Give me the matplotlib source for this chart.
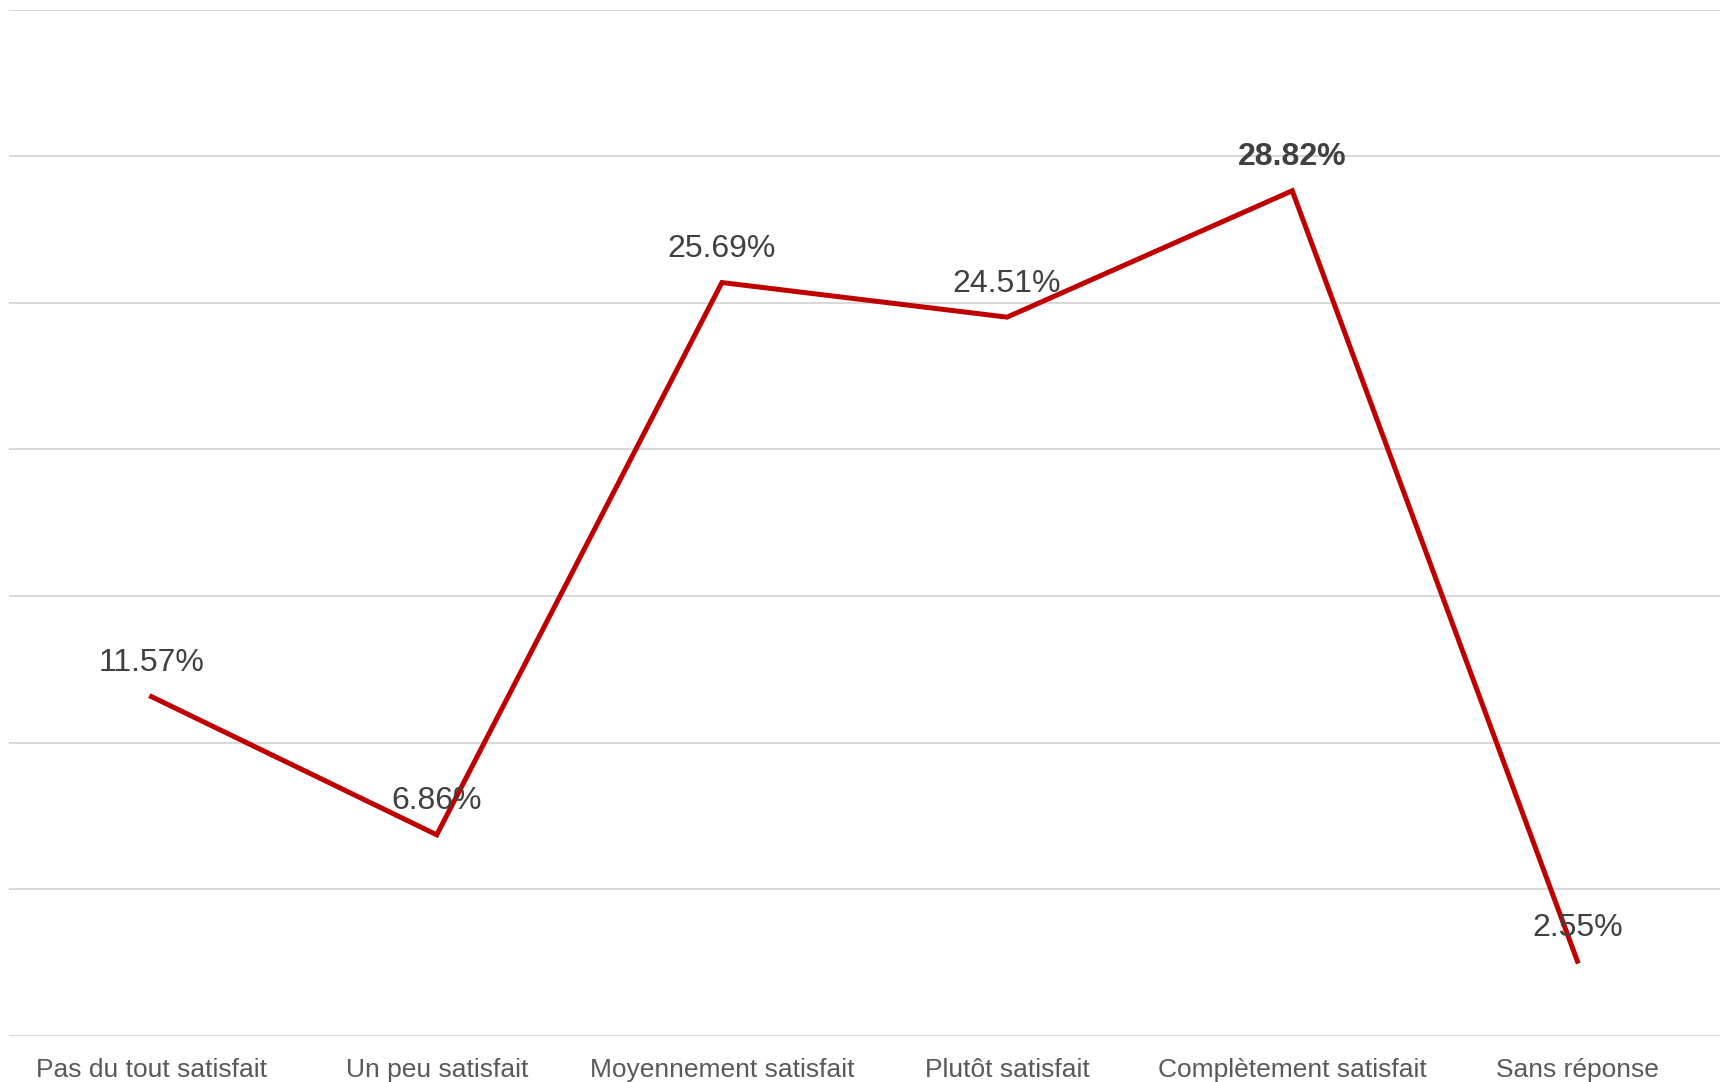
import matplotlib
matplotlib.use("Agg")
import matplotlib.pyplot as plt

categories = ["Pas du tout satisfait", "Un peu satisfait", "Moyennement satisfait",
              "Plutôt satisfait", "Complètement satisfait", "Sans réponse"]
values = [11.57, 6.86, 25.69, 24.51, 28.82, 2.55]
labels = ["11.57%", "6.86%", "25.69%", "24.51%", "28.82%", "2.55%"]

plt.rcParams['font.family'] = ['Liberation Sans', 'DejaVu Sans']

fig = plt.figure(figsize=(17.27, 10.82), dpi=100)
ax = fig.add_axes([9/1727, 1 - 1036/1082, (1720-9)/1727, (1036-9.5)/1082])

x = list(range(len(categories)))
ax.plot(x, values, color="#C00000", linewidth=3.6, solid_joinstyle="miter", zorder=3)

imax = values.index(max(values))
for i, (v, lab) in enumerate(zip(values, labels)):
    ax.annotate(lab, (i, v), xytext=(0, 24), textcoords="offset points",
                ha="center", va="center", fontsize=23, color="#404040",
                fontweight="bold" if i == imax else "normal", zorder=4)

ax.set_xlim(-0.5, len(categories) - 0.5)
ax.set_ylim(0, 35)
ax.set_yticks(range(0, 36, 5))
ax.yaxis.grid(True, color="#D9D9D9", linewidth=1.5)
ax.set_axisbelow(True)
ax.tick_params(axis="y", left=False, labelleft=False)
ax.set_xticks(x)
ax.set_xticklabels(categories, fontsize=19, color="#595959")
ax.tick_params(axis="x", length=0, pad=16)
for s in ax.spines.values():
    s.set_visible(False)

fig.savefig("out.png", dpi=100)
